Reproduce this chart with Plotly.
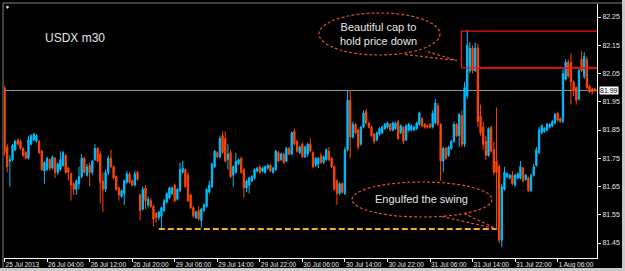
import plotly.graph_objects as go

# ---------------- data (USDX, 30-minute bars) ----------------
opens = [82.00, 81.79, 81.74, 81.745, 81.78, 81.815, 81.81, 81.785, 81.77, 81.75,
         81.80, 81.815, 81.81, 81.81, 81.775, 81.705, 81.71, 81.745, 81.715, 81.75,
         81.70, 81.71, 81.725, 81.76, 81.715, 81.695, 81.66, 81.64, 81.66, 81.685,
         81.75, 81.69, 81.725, 81.70, 81.745, 81.785, 81.765, 81.67, 81.64, 81.70,
         81.75, 81.72, 81.685, 81.645, 81.615, 81.625, 81.665, 81.695, 81.67, 81.655,
         81.70, 81.62, 81.57, 81.645, 81.585, 81.60, 81.58, 81.555, 81.54, 81.545,
         81.565, 81.595, 81.61, 81.625, 81.655, 81.605, 81.635, 81.70, 81.71, 81.69,
         81.62, 81.575, 81.54, 81.565, 81.53, 81.565, 81.58, 81.63, 81.65, 81.72,
         81.77, 81.755, 81.83, 81.82, 81.745, 81.77, 81.69, 81.70, 81.73, 81.75,
         81.71, 81.645, 81.655, 81.67, 81.68, 81.705, 81.72, 81.705, 81.70, 81.715,
         81.725, 81.70, 81.71, 81.77, 81.745, 81.765, 81.74, 81.785, 81.765, 81.845,
         81.81, 81.77, 81.80, 81.755, 81.765, 81.80, 81.77, 81.725, 81.73, 81.76,
         81.735, 81.745, 81.775, 81.75, 81.72, 81.67, 81.625, 81.66, 81.625, 81.78,
         81.955, 81.825, 81.87, 81.85, 81.80, 81.86, 81.915, 81.875, 81.86, 81.835,
         81.815, 81.835, 81.84, 81.855, 81.86, 81.87, 81.85, 81.855, 81.88, 81.84,
         81.86, 81.815, 81.85, 81.85, 81.85, 81.855, 81.87, 81.89, 81.87, 81.865,
         81.87, 81.86, 81.875, 81.935, 81.87, 81.74, 81.785, 81.76, 81.785, 81.81,
         81.87, 81.83, 81.90, 81.80, 81.97, 82.06, 82.14, 82.06, 82.14, 81.90,
         81.86, 81.81, 81.76, 81.86, 81.78, 81.74, 81.72, 81.46, 81.64, 81.685,
         81.68, 81.69, 81.655, 81.68, 81.68, 81.715, 81.675, 81.68, 81.635, 81.69,
         81.725, 81.77, 81.84, 81.845, 81.85, 81.86, 81.865, 81.875, 81.91, 81.89,
         81.88, 82.03, 82.09, 82.09, 82.02, 82.00, 81.96, 82.10, 82.04, 82.10,
         82.005, 81.995, 81.995]
highs = [82.005, 81.80, 81.76, 81.80, 81.815, 81.82, 81.815, 81.79, 81.775, 81.83,
         81.835, 81.84, 81.835, 81.815, 81.78, 81.74, 81.755, 81.75, 81.76, 81.755,
         81.735, 81.775, 81.775, 81.765, 81.72, 81.70, 81.665, 81.675, 81.72, 81.765,
         81.755, 81.73, 81.735, 81.745, 81.80, 81.79, 81.775, 81.70, 81.71, 81.76,
         81.78, 81.725, 81.69, 81.65, 81.64, 81.675, 81.705, 81.70, 81.675, 81.705,
         81.705, 81.625, 81.65, 81.655, 81.615, 81.61, 81.585, 81.56, 81.565, 81.58,
         81.605, 81.63, 81.65, 81.65, 81.66, 81.645, 81.735, 81.74, 81.715, 81.70,
         81.625, 81.58, 81.565, 81.58, 81.575, 81.59, 81.645, 81.67, 81.735, 81.78,
         81.775, 81.83, 81.845, 81.845, 81.80, 81.78, 81.725, 81.77, 81.75, 81.755,
         81.715, 81.675, 81.685, 81.69, 81.715, 81.72, 81.725, 81.72, 81.725, 81.73,
         81.73, 81.72, 81.78, 81.775, 81.77, 81.77, 81.79, 81.79, 81.845, 81.855,
         81.815, 81.795, 81.805, 81.795, 81.805, 81.82, 81.775, 81.755, 81.755, 81.77,
         81.76, 81.785, 81.79, 81.755, 81.725, 81.675, 81.665, 81.665, 81.79, 81.99,
         81.99, 81.88, 81.875, 81.855, 81.865, 81.92, 81.925, 81.88, 81.865, 81.84,
         81.845, 81.86, 81.865, 81.875, 81.88, 81.875, 81.88, 81.88, 81.885, 81.87,
         81.865, 81.87, 81.875, 81.87, 81.865, 81.88, 81.915, 81.895, 81.875, 81.87,
         81.875, 81.92, 81.96, 81.945, 81.875, 81.79, 81.79, 81.795, 81.815, 81.88,
         81.875, 81.91, 81.92, 82.02, 82.205, 82.16, 82.15, 82.16, 82.155, 81.94,
         81.88, 81.83, 81.86, 81.865, 81.81, 81.93, 81.73, 81.66, 81.72, 81.70,
         81.695, 81.705, 81.695, 81.70, 81.74, 81.72, 81.695, 81.685, 81.695, 81.73,
         81.79, 81.86, 81.87, 81.86, 81.875, 81.875, 81.885, 81.91, 81.915, 81.895,
         82.065, 82.10, 82.10, 82.12, 82.025, 82.005, 82.07, 82.13, 82.125, 82.11,
         82.01, 82.00, 82.00]
lows = [81.76, 81.70, 81.65, 81.74, 81.775, 81.795, 81.78, 81.755, 81.745, 81.745,
        81.795, 81.81, 81.805, 81.765, 81.705, 81.66, 81.705, 81.705, 81.71, 81.68,
        81.69, 81.705, 81.72, 81.695, 81.67, 81.60, 81.62, 81.62, 81.64, 81.68,
        81.695, 81.685, 81.65, 81.69, 81.74, 81.735, 81.59, 81.56, 81.63, 81.69,
        81.715, 81.675, 81.635, 81.60, 81.61, 81.585, 81.66, 81.66, 81.65, 81.65,
        81.67, 81.53, 81.565, 81.57, 81.575, 81.575, 81.51, 81.52, 81.53, 81.50,
        81.56, 81.59, 81.605, 81.62, 81.595, 81.60, 81.63, 81.695, 81.645, 81.595,
        81.57, 81.54, 81.535, 81.53, 81.505, 81.56, 81.575, 81.625, 81.645, 81.715,
        81.75, 81.75, 81.765, 81.735, 81.71, 81.68, 81.65, 81.695, 81.725, 81.695,
        81.61, 81.63, 81.625, 81.665, 81.675, 81.70, 81.695, 81.70, 81.695, 81.71,
        81.70, 81.695, 81.705, 81.735, 81.74, 81.73, 81.735, 81.76, 81.76, 81.795,
        81.77, 81.765, 81.75, 81.75, 81.755, 81.77, 81.715, 81.72, 81.715, 81.73,
        81.73, 81.74, 81.74, 81.715, 81.635, 81.585, 81.62, 81.625, 81.62, 81.775,
        81.75, 81.82, 81.835, 81.78, 81.795, 81.855, 81.87, 81.855, 81.825, 81.80,
        81.81, 81.83, 81.835, 81.85, 81.855, 81.845, 81.845, 81.85, 81.815, 81.835,
        81.80, 81.81, 81.845, 81.845, 81.845, 81.85, 81.865, 81.86, 81.855, 81.855,
        81.855, 81.855, 81.87, 81.865, 81.67, 81.70, 81.745, 81.755, 81.78, 81.805,
        81.825, 81.79, 81.79, 81.79, 81.96, 82.05, 82.05, 82.055, 81.86, 81.83,
        81.78, 81.745, 81.755, 81.77, 81.69, 81.50, 81.45, 81.435, 81.635, 81.68,
        81.675, 81.655, 81.65, 81.675, 81.675, 81.665, 81.67, 81.63, 81.63, 81.685,
        81.72, 81.765, 81.835, 81.84, 81.845, 81.855, 81.86, 81.87, 81.88, 81.875,
        81.875, 82.025, 82.035, 81.94, 81.97, 81.94, 81.955, 82.055, 82.03, 81.995,
        81.98, 81.975, 81.985]
closes = [81.77, 81.72, 81.745, 81.795, 81.81, 81.80, 81.785, 81.76, 81.75, 81.815,
          81.83, 81.835, 81.83, 81.77, 81.71, 81.735, 81.75, 81.715, 81.755, 81.70,
          81.73, 81.745, 81.77, 81.70, 81.70, 81.655, 81.64, 81.67, 81.685, 81.75,
          81.70, 81.72, 81.70, 81.74, 81.785, 81.74, 81.665, 81.64, 81.70, 81.75,
          81.72, 81.68, 81.64, 81.62, 81.635, 81.67, 81.695, 81.665, 81.655, 81.695,
          81.675, 81.565, 81.64, 81.60, 81.605, 81.58, 81.535, 81.54, 81.56, 81.575,
          81.60, 81.625, 81.645, 81.645, 81.60, 81.64, 81.71, 81.715, 81.65, 81.60,
          81.575, 81.545, 81.56, 81.535, 81.57, 81.585, 81.64, 81.655, 81.73, 81.775,
          81.755, 81.82, 81.77, 81.74, 81.765, 81.685, 81.72, 81.74, 81.745, 81.70,
          81.645, 81.67, 81.68, 81.685, 81.71, 81.715, 81.70, 81.715, 81.72, 81.725,
          81.705, 81.715, 81.775, 81.74, 81.765, 81.735, 81.785, 81.765, 81.84, 81.80,
          81.775, 81.79, 81.755, 81.79, 81.80, 81.775, 81.72, 81.75, 81.75, 81.735,
          81.755, 81.78, 81.745, 81.72, 81.64, 81.625, 81.66, 81.63, 81.78, 81.955,
          81.825, 81.87, 81.84, 81.79, 81.86, 81.91, 81.875, 81.86, 81.83, 81.81,
          81.84, 81.855, 81.86, 81.87, 81.875, 81.85, 81.875, 81.875, 81.82, 81.865,
          81.81, 81.865, 81.87, 81.865, 81.86, 81.875, 81.91, 81.865, 81.86, 81.86,
          81.86, 81.91, 81.945, 81.87, 81.74, 81.785, 81.75, 81.79, 81.81, 81.87,
          81.83, 81.905, 81.80, 82.00, 82.15, 82.14, 82.06, 82.14, 81.88, 81.84,
          81.80, 81.76, 81.855, 81.775, 81.70, 81.70, 81.46, 81.65, 81.70, 81.695,
          81.69, 81.66, 81.69, 81.695, 81.72, 81.67, 81.69, 81.635, 81.69, 81.72,
          81.78, 81.85, 81.865, 81.855, 81.87, 81.87, 81.88, 81.905, 81.885, 81.88,
          82.05, 82.09, 82.04, 82.02, 81.99, 81.955, 82.06, 82.06, 82.11, 82.00,
          81.985, 81.985, 81.99]

time_ticks = [0, 16, 32, 48, 64, 80, 96, 112, 128, 144, 160, 176, 192, 208]
time_labels = ["25 Jul 2013", "26 Jul 04:00", "26 Jul 12:00", "26 Jul 20:00",
               "29 Jul 06:00", "29 Jul 14:00", "29 Jul 22:00", "30 Jul 06:00",
               "30 Jul 14:00", "30 Jul 22:00", "31 Jul 06:00", "31 Jul 14:00",
               "31 Jul 22:00", "1 Aug 06:00"]
price_ticks = [81.45, 81.55, 81.65, 81.75, 81.85, 81.95, 82.05, 82.15, 82.25]
price_labels = ["81.45", "81.55", "81.65", "81.75", "81.85", "81.95", "82.05", "82.15", "82.25"]
bid_price = 81.99
swing_low = 81.50
swing_from, swing_to = 58, 185.3
cap_low, cap_high = 82.07, 82.20
cap_from = 171.8
chart_title = "USDX m30"
note_cap = "Beautiful cap to<br>hold price down"
note_swing = "Engulfed the swing"

# ---------------- geometry helpers ----------------
W, H = 625, 271
PL, PR, PT, PB = 4, 597, 4, 258
n = len(closes)
XR = [-0.2, n - 0.2]
YR = [81.397, 82.296]

def dx(px):
    return XR[0] + (px - PL) / (PR - PL) * (XR[1] - XR[0])

def dy(py):
    return YR[1] - (py - PT) / (PB - PT) * (YR[1] - YR[0])

def papx(px):
    return (px - PL) / (PR - PL)

def papy(py):
    return (PB - py) / (PB - PT)

UP, DOWN = "#00BFFF", "#FF4500"
NOTE = "#D8502E"
TXT = "#E6E6E6"
FONT = "Liberation Sans, Arial, sans-serif"

fig = go.Figure()
fig.add_trace(go.Candlestick(
    x=list(range(n)), open=opens, high=highs, low=lows, close=closes,
    increasing=dict(line=dict(color=UP, width=1), fillcolor=UP),
    decreasing=dict(line=dict(color=DOWN, width=1), fillcolor=DOWN),
    whiskerwidth=0, showlegend=False, hoverinfo="skip"))

shapes = []
# bid line
shapes.append(dict(type="line", xref="paper", yref="y", x0=0, x1=1,
                   y0=bid_price, y1=bid_price, line=dict(color="#9A9A9A", width=1),
                   layer="below"))
# swing low dashed line
shapes.append(dict(type="line", xref="x", yref="y", x0=swing_from, x1=swing_to,
                   y0=swing_low, y1=swing_low,
                   line=dict(color="#F5A833", width=2, dash="6px,3px")))
# red cap rectangle
shapes.append(dict(type="rect", xref="x", yref="y", x0=cap_from, x1=dx(599.5),
                   y0=cap_low, y1=cap_high, line=dict(color="#FF1010", width=1.2)))
shapes.append(dict(type="line", xref="x", yref="y", x0=177.5, x1=dx(599.5),
                   y0=cap_low, y1=cap_low, line=dict(color="#FF1010", width=1.2)))
# callout ellipses
shapes.append(dict(type="circle", xref="x", yref="y", x0=dx(319), x1=dx(440),
                   y0=dy(55), y1=dy(13), line=dict(color=NOTE, width=1.2, dash="3px,2px")))
shapes.append(dict(type="path", xref="x", yref="y",
                   path="M %f,%f L %f,%f L %f,%f" % (dx(405), dy(54.5), dx(457), dy(60.5), dx(425), dy(51)),
                   line=dict(color=NOTE, width=1.2, dash="3px,2px")))
shapes.append(dict(type="circle", xref="x", yref="y", x0=dx(352), x1=dx(492),
                   y0=dy(217), y1=dy(182), line=dict(color=NOTE, width=1.2, dash="3px,2px")))
shapes.append(dict(type="path", xref="x", yref="y",
                   path="M %f,%f L %f,%f L %f,%f" % (dx(442), dy(216.5), dx(497), dy(229), dx(463), dy(213)),
                   line=dict(color=NOTE, width=1.2, dash="3px,2px")))
# window frame
shapes.append(dict(type="line", xref="paper", yref="paper", x0=papx(3), x1=papx(3),
                   y0=papy(3), y1=papy(268), line=dict(color="#808080", width=1)))
shapes.append(dict(type="line", xref="paper", yref="paper", x0=papx(3), x1=papx(622),
                   y0=papy(3), y1=papy(3), line=dict(color="#808080", width=1)))
shapes.append(dict(type="rect", xref="paper", yref="paper", x0=papx(622), x1=papx(626),
                   y0=papy(0), y1=papy(272), line=dict(width=0), fillcolor="#C8C8C8"))
shapes.append(dict(type="rect", xref="paper", yref="paper", x0=papx(0), x1=papx(626),
                   y0=papy(268), y1=papy(272), line=dict(width=0), fillcolor="#C8C8C8"))

annotations = [
    dict(text=chart_title, xref="paper", yref="paper", x=papx(43), y=papy(38),
         xanchor="left", yanchor="middle", showarrow=False,
         font=dict(family=FONT, size=12, color=TXT)),
    dict(text=note_cap, xref="x", yref="y", x=dx(378), y=dy(34),
         xanchor="center", yanchor="middle", showarrow=False,
         font=dict(family=FONT, size=11, color=TXT)),
    dict(text=note_swing, xref="x", yref="y", x=dx(421), y=dy(199),
         xanchor="center", yanchor="middle", showarrow=False,
         font=dict(family=FONT, size=11, color=TXT)),
    dict(text="%.2f" % bid_price, xref="paper", yref="y", x=papx(599), y=bid_price,
         xanchor="left", yanchor="middle", showarrow=False, bgcolor="#FFFFFF",
         borderpad=0, font=dict(family=FONT, size=7, color="#000000")),
    dict(text="\u25BC", xref="paper", yref="paper", x=papx(7), y=papy(7),
         xanchor="center", yanchor="middle", showarrow=False,
         font=dict(family=FONT, size=5, color="#FFFFFF")),
]

fig.update_layout(
    width=W, height=H, autosize=False,
    margin=dict(l=PL, r=W - PR, t=PT, b=H - PB, pad=0, autoexpand=False),
    paper_bgcolor="#000000", plot_bgcolor="#000000",
    shapes=shapes, annotations=annotations, showlegend=False,
    xaxis=dict(range=XR, rangeslider=dict(visible=False), showgrid=False, zeroline=False,
               tickmode="array", tickvals=time_ticks, ticktext=time_labels,
               ticks="outside", ticklen=3, tickcolor="#FFFFFF", tickwidth=1,
               ticklabelposition="outside right", tickangle=0, automargin=False,
               showline=True, linecolor="#FFFFFF", linewidth=1,
               tickfont=dict(family=FONT, size=6.5, color=TXT), fixedrange=True),
    yaxis=dict(range=YR, side="right", showgrid=False, zeroline=False,
               tickmode="array", tickvals=price_ticks, ticktext=price_labels,
               ticks="outside", ticklen=3, tickcolor="#FFFFFF", tickwidth=1,
               showline=True, linecolor="#FFFFFF", linewidth=1, automargin=False,
               tickfont=dict(family=FONT, size=7, color=TXT), fixedrange=True),
)

fig.write_html("out.html")
